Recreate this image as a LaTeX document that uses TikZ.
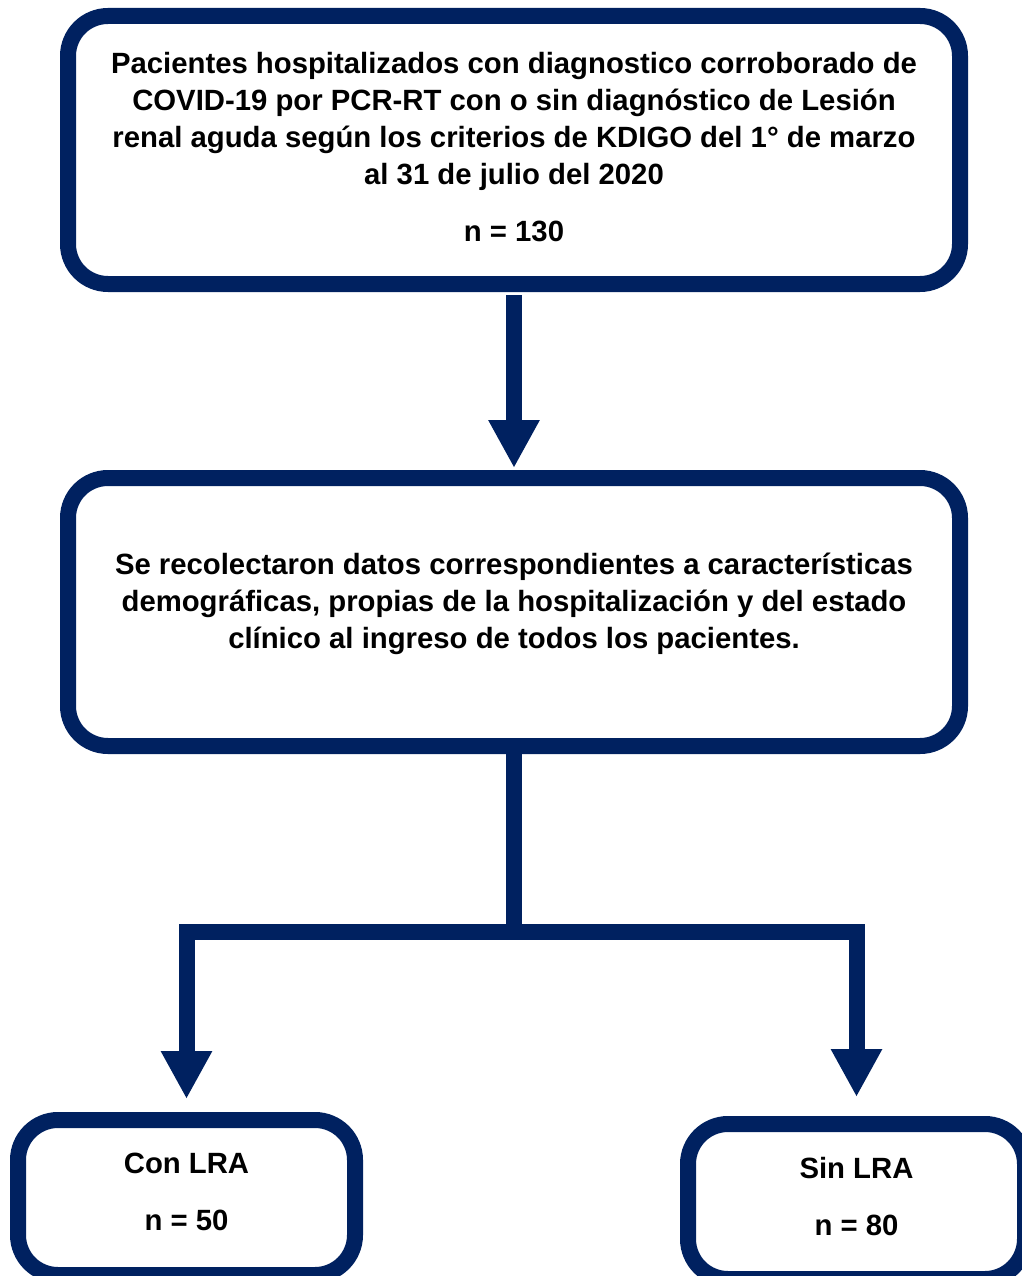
\documentclass[tikz,border=0pt]{standalone}
\usepackage{fontspec}
\setmainfont{Liberation Sans}
\usetikzlibrary{positioning, arrows.meta}
\definecolor{navy}{RGB}{0,33,96}
\tikzset{
flowbox/.style={draw=navy, line width=16pt, rounded corners=40pt, fill=white, inner sep=0pt, align=center, font=\bfseries\fontsize{29.3}{37}\selectfont}, % the thick rounded boxes
flowline/.style={draw=navy, line width=16pt, line join=miter}, % plain connector
flowarrow/.style={flowline, -{Triangle[width=48pt, length=48pt]}}, % connector with a big head
}

\begin{document}
\begin{tikzpicture}[x=1pt, y=-1pt]
    \useasboundingbox (0,0) rectangle (1021,1276);

    \node[flowbox, minimum width=892pt, minimum height=268pt] (cohorte) at (514,150)
    {Pacientes hospitalizados con diagnostico corroborado de\\
     COVID-19 por PCR-RT con o sin diagnóstico de Lesión\\
     renal aguda según los criterios de KDIGO del 1° de marzo\\
     al 31 de julio del 2020\\[20pt]
     n = 130\\[-30pt]\mbox{}};
    \node[flowbox, minimum width=892pt, minimum height=268pt, below=178pt of cohorte] (datos)
    {Se recolectaron datos correspondientes a características\\
     demográficas, propias de la hospitalización y del estado\\
     clínico al ingreso de todos los pacientes.\\[-15pt]\mbox{}};
    \node[flowbox, minimum width=337pt, minimum height=155pt] (conLRA) at (186.5,1197.5)
    {Con LRA\\[20pt] n = 50\\[-26pt]\mbox{}};
    \node[flowbox, minimum width=337pt, minimum height=155pt] (sinLRA) at (856.5,1201.5)
    {Sin LRA\\[20pt] n = 80\\[-26pt]\mbox{}};

    \coordinate[below=178pt of datos.south] (split);

    \draw[flowarrow] ([yshift=-3pt]cohorte.south) -- ([yshift=2pt]datos.north);
    \draw[flowline] (datos.south) -- (split);
    \draw[flowarrow] (split) -| ([yshift=13pt]conLRA.north);
    \draw[flowarrow] (split) -| ([yshift=19pt]sinLRA.north);
  \end{tikzpicture}
\end{document}
